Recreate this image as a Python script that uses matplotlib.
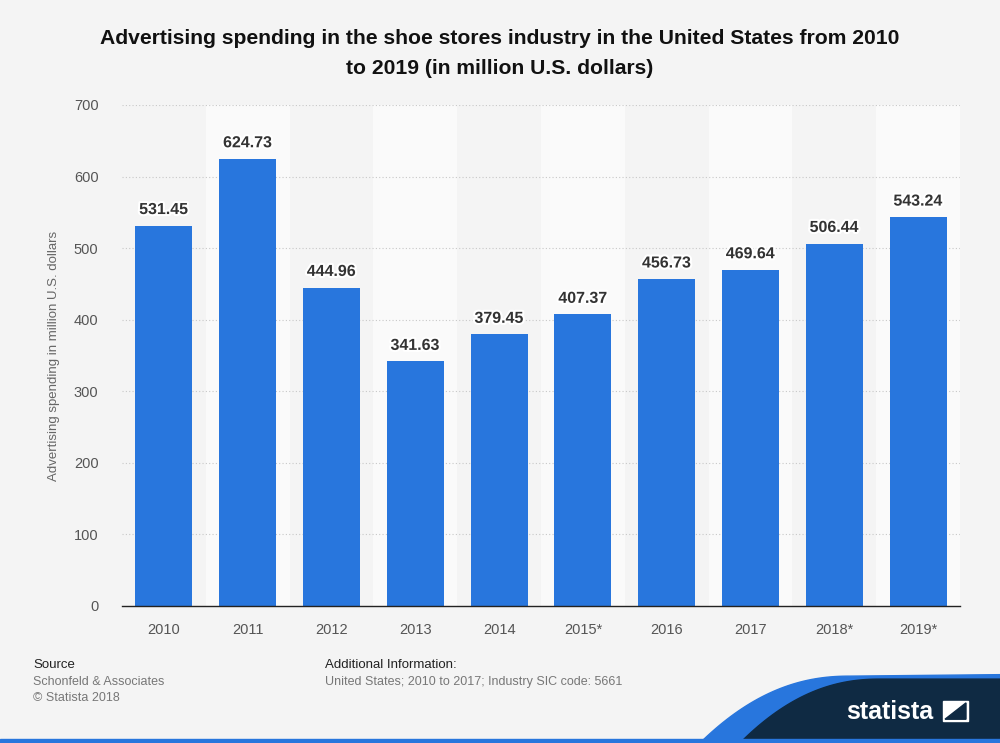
import matplotlib
matplotlib.use('Agg')
import numpy as np
import matplotlib.pyplot as plt
import matplotlib.patheffects as pe
from matplotlib.patches import Polygon, Rectangle

plt.rcParams['font.family'] = ['Liberation Sans', 'DejaVu Sans']

years = ["2010", "2011", "2012", "2013", "2014", "2015*", "2016", "2017", "2018*", "2019*"]
spending = [531.45, 624.73, 444.96, 341.63, 379.45, 407.37, 456.73, 469.64, 506.44, 543.24]
yticks = [0, 100, 200, 300, 400, 500, 600, 700]

title = "Advertising spending in the shoe stores industry in the United States from 2010\nto 2019 (in million U.S. dollars)"
ylabel = "Advertising spending in million U.S. dollars"

bg = '#f4f4f4'
bar_color = '#2876dd'

fig = plt.figure(figsize=(10, 7.43), dpi=100, facecolor=bg)
ax = fig.add_axes([0.122, 0.1844, 0.838, 0.6743])
ax.set_facecolor(bg)

ind = np.arange(len(years))
# alternating column bands
for i in ind:
    if i % 2 == 1:
        ax.axvspan(i - 0.5, i + 0.5, color='#fafafa', zorder=0, lw=0)

for y in yticks[1:]:
    ax.axhline(y, color='#c8c8c8', lw=0.8, ls=(0, (1, 2)), zorder=1)

bars = ax.bar(ind, spending, 0.68, color=bar_color, zorder=2)
for x, v in zip(ind, spending):
    ax.text(x, v + 12, "%.2f" % v, ha='center', va='bottom', fontsize=11.5,
            fontweight='bold', color='#333333', zorder=3,
            path_effects=[pe.withStroke(linewidth=3, foreground='white')])

ax.set_xlim(-0.5, len(years) - 0.5)
ax.set_ylim(0, 700)
ax.set_xticks(ind)
ax.set_xticklabels(years)
ax.set_yticks(yticks)
ax.tick_params(axis='both', length=0, labelsize=10.5, colors='#555555')
ax.tick_params(axis='y', pad=17)
ax.tick_params(axis='x', pad=12)
for s in ['top', 'right', 'left']:
    ax.spines[s].set_visible(False)
ax.spines['bottom'].set_color('#222222')
ax.spines['bottom'].set_linewidth(1.0)
ax.spines['bottom'].set_zorder(4)
ax.set_ylabel(ylabel, fontsize=9.5, color='#666666', labelpad=10)

fig.text(0.5, 0.928, title, ha='center', va='center', fontsize=15.2,
         fontweight='bold', color='#111111', linespacing=1.75)

# footer
fig.text(0.033, 0.105, "Source", fontsize=9.5, color='#222222', va='center')
fig.text(0.033, 0.082, "Schonfeld & Associates", fontsize=9, color='#777777', va='center')
fig.text(0.033, 0.060, "\u00a9 Statista 2018", fontsize=9, color='#777777', va='center')
fig.text(0.325, 0.105, "Additional Information:", fontsize=9.5, color='#222222', va='center')
fig.text(0.325, 0.082, "United States; 2010 to 2017; Industry SIC code: 5661", fontsize=9,
         color='#777777', va='center')

# statista logo area
t = np.linspace(0, 1, 40)
cx = 0.70 + 0.15 * t
cy = 0.0 + 0.09 * (1 - (1 - t) ** 2.2)
blue_pts = list(zip(np.r_[cx, 1.0, 1.0], np.r_[cy + 0.0, 0.092, 0.0]))
fig.patches.append(Polygon(blue_pts, closed=True, transform=fig.transFigure,
                           color='#2876dd', zorder=1))
cx2 = 0.74 + 0.14 * t
cy2 = 0.0 + 0.086 * (1 - (1 - t) ** 2.2)
navy_pts = list(zip(np.r_[cx2, 1.0, 1.0], np.r_[cy2, 0.086, 0.0]))
fig.patches.append(Polygon(navy_pts, closed=True, transform=fig.transFigure,
                           color='#0f2a43', zorder=2))
fig.patches.append(Rectangle((0, 0), 1, 0.006, transform=fig.transFigure,
                             color='#2876dd', zorder=3))
fig.text(0.89, 0.042, "statista", fontsize=18, fontweight='bold', color='white',
         ha='center', va='center', zorder=4)
fig.patches.append(Polygon([(0.943, 0.030), (0.968, 0.030), (0.968, 0.056), (0.943, 0.056)],
                           closed=True, transform=fig.transFigure, color='white', zorder=4))
fig.patches.append(Polygon([(0.945, 0.032), (0.966, 0.054), (0.966, 0.032)],
                           closed=True, transform=fig.transFigure, color='#0f2a43', zorder=5))

fig.savefig('out.png', dpi=100, facecolor=bg)
